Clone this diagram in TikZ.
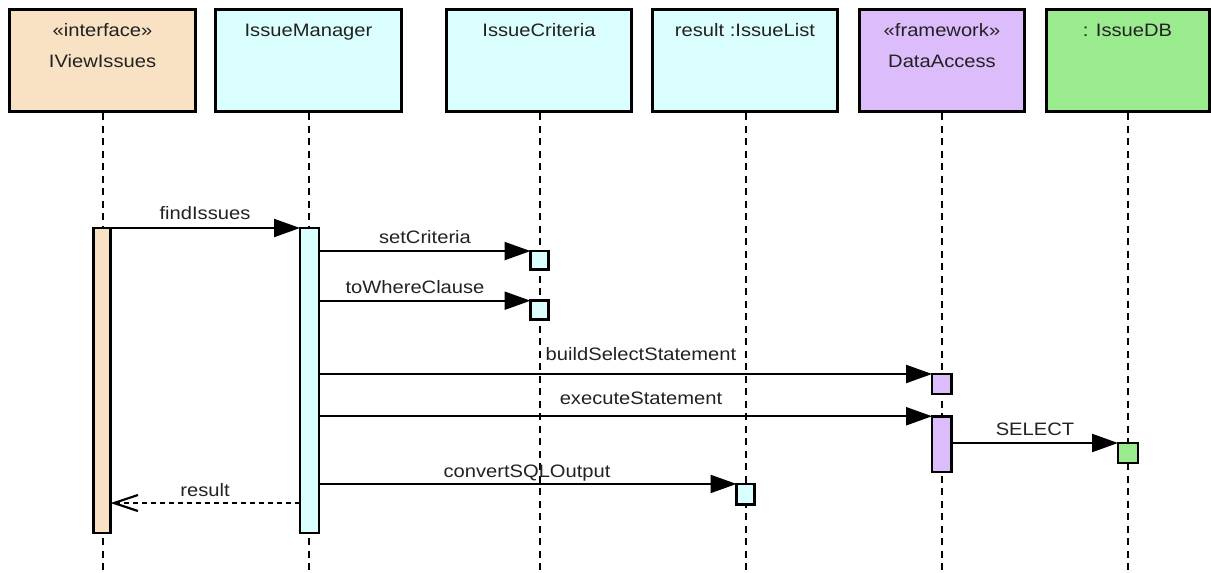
\documentclass[tikz,border=0pt]{standalone}
\usepackage{fontspec}
\setmainfont[FakeStretch=1.12]{Liberation Sans}
\usetikzlibrary{arrows.meta}
\definecolor{peach}{HTML}{F9E1C3}
\definecolor{lcyan}{HTML}{DBFEFF}
\definecolor{lilac}{HTML}{DDBCFC}
\definecolor{lgreen}{HTML}{9AEA8E}
\definecolor{txt}{HTML}{222222}
\begin{document}
\begin{tikzpicture}[x=1pt,y=-1pt,
  headbox/.style={draw=black, line width=3pt, minimum height=102pt, inner sep=0pt, outer sep=0pt},
  headtxt/.style={anchor=base, inner sep=0pt, text=txt, font=\fontsize{18}{18}\selectfont},
  lifeline/.style={draw=black, line width=2.5pt, dash pattern=on 7pt off 5.5pt},
  act/.style={draw=black, line width=2.6pt, minimum width=18pt, inner sep=0pt, outer sep=0pt},
  msg/.style={draw=black, line width=2.2pt, -{Triangle[length=26pt,width=18pt]}},
  ret/.style={draw=black, line width=2.2pt, dash pattern=on 5pt off 4pt, -{Straight Barb[length=24pt,width=16pt,line width=2.2pt]}},
  lbl/.style={anchor=base, inner sep=0pt, text=txt, font=\fontsize{18}{18}\selectfont}
]
\useasboundingbox (0,0) rectangle (1211,573);
\fill[white] (0,0) rectangle (1211,573);

% header boxes
\node[headbox, fill=peach,  minimum width=185.5pt] (b1) at (102.5,60.5) {};
\node[headbox, fill=lcyan,  minimum width=186pt]   (b2) at (308.5,60.5) {};
\node[headbox, fill=lcyan,  minimum width=185pt]   (b3) at (539,60.5) {};
\node[headbox, fill=lcyan,  minimum width=185pt]   (b4) at (745,60.5) {};
\node[headbox, fill=lilac,  minimum width=164.5pt] (b5) at (942,60.5) {};
\node[headbox, fill=lgreen, minimum width=163pt]   (b6) at (1127.5,60.5) {};

\node[headtxt] (t1a) at (102.5,36) {«interface»};
\node[headtxt] (t1b) at (102.5,67) {IViewIssues};
\node[headtxt] (t2) at (308.5,36) {IssueManager};
\node[headtxt] (t3) at (539,36) {IssueCriteria};
\node[headtxt] (t4) at (745,36) {result :IssueList};
\node[headtxt] (t5a) at (942,36) {«framework»};
\node[headtxt] (t5b) at (942,67) {DataAccess};
\node[headtxt] (t6) at (1127.5,36) {: IssueDB};

% lifeline ends
\coordinate (e1) at (103,573);
\coordinate (e2) at (309,573);
\coordinate (e3) at (540,573);
\coordinate (e4) at (746,573);
\coordinate (e5) at (942,573);
\coordinate (e6) at (1128,573);
\coordinate (s1) at (103,113);
\coordinate (s2) at (309,113);
\coordinate (s3) at (540,113);
\coordinate (s4) at (746,113);
\coordinate (s5) at (942,113);
\coordinate (s6) at (1128,113);
\draw[lifeline] (s1) -- (e1);
\draw[lifeline] (s2) -- (e2);
\draw[lifeline] (s3) -- (e3);
\draw[lifeline] (s4) -- (e4);
\draw[lifeline] (s5) -- (e5);
\draw[lifeline] (s6) -- (e6);

% activations
\node[act, fill=peach, minimum width=17pt, minimum height=305pt] (a1) at (102,380.5) {};
\node[act, fill=lcyan, minimum width=19pt, minimum height=305pt] (a2) at (309.5,380.5) {};
\node[act, fill=lcyan, minimum height=18.5pt] (a3) at (539.5,260.3) {};
\node[act, fill=lcyan, minimum height=18.8pt] (a4) at (539.5,310.1) {};
\node[act, fill=lilac, minimum width=19.3pt, minimum height=19.8pt] (a5) at (941.7,383.9) {};
\node[act, fill=lilac, minimum width=19.3pt, minimum height=55.9pt] (a6) at (941.7,444.2) {};
\node[act, fill=lcyan, minimum height=20.7pt] (a7) at (745.5,494.3) {};
\node[act, fill=lgreen, minimum width=20pt, minimum height=20pt] (a8) at (1128,453) {};

% messages
\draw[msg] (a1.north east) -- (a2.north west);
\draw[msg] (a2.east |- a3.north) -- (a3.north west);
\draw[msg] (a2.east |- a4.north) -- (a4.north west);
\draw[msg] (a2.east |- a5.north) -- (a5.north west);
\draw[msg] (a2.east |- a6.north) -- (a6.north west);
\draw[msg] (a6.east |- a8.north) -- (a8.north west);
\draw[msg] (a2.east |- a7.north) -- (a7.north west);
\coordinate (r0) at (a2.west |- 0,503);
\coordinate (r1) at (a1.east |- 0,503);
\draw[ret] (r0) -- (r1);

% labels
\node[lbl] (l1) at (205,219) {findIssues};
\node[lbl] (l2) at (425,243) {setCriteria};
\node[lbl] (l3) at (415,293) {toWhereClause};
\node[lbl] (l4) at (641,360) {buildSelectStatement};
\node[lbl] (l5) at (641,404) {executeStatement};
\node[lbl] (l6) at (1035,435) {SELECT};
\node[lbl] (l7) at (205,496) {result};
\node[lbl] (l8) at (527,477) {convertSQLOutput};
\end{tikzpicture}
\end{document}
